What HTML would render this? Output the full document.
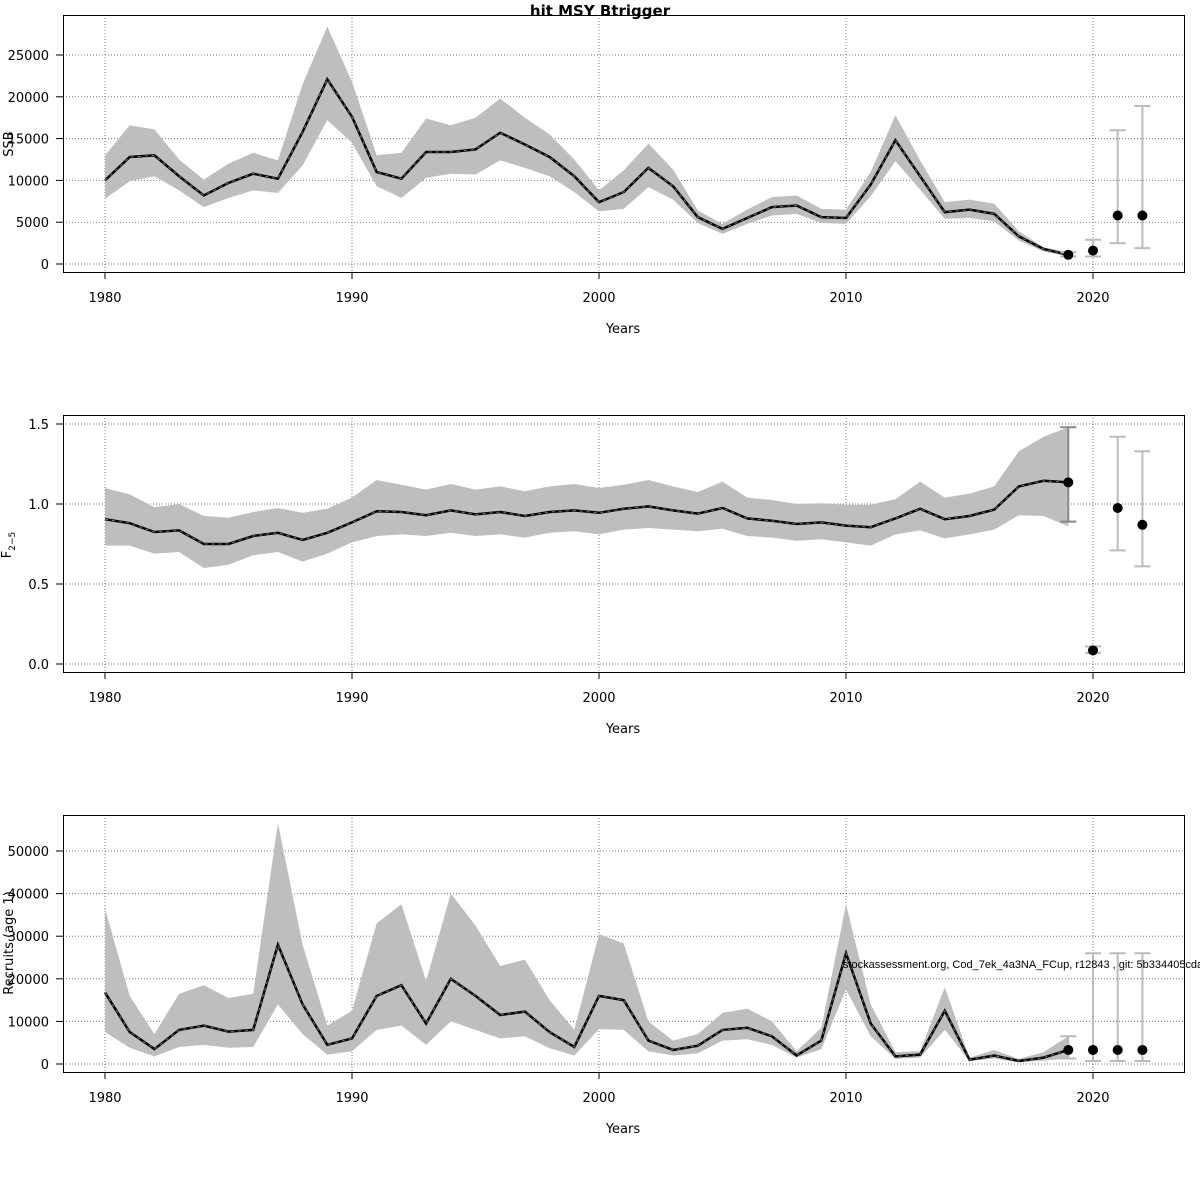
<!DOCTYPE html>
<html><head><meta charset="utf-8"><style>
html,body{margin:0;padding:0;background:#fff;}
svg{display:block;font-family:"DejaVu Sans","Liberation Sans",sans-serif;}
</style></head><body>
<svg id="s" width="1200" height="1200" xmlns="http://www.w3.org/2000/svg"></svg>
<script>
const S=document.getElementById('s');let h='';
const X=y=>105+(y-1980)*24.7;
const ssb=[[10,7.8,13],[12.8,9.9,16.6],[13,10.5,16.1],[10.5,8.8,12.5],[8.2,6.8,10.1],[9.7,7.9,12],[10.8,8.8,13.3],[10.2,8.5,12.4],[15.8,11.8,21.5],[22.1,17.2,28.4],[17.6,14.5,21.8],[11,9.3,13],[10.2,7.9,13.3],[13.4,10.3,17.4],[13.4,10.8,16.6],[13.7,10.7,17.5],[15.7,12.4,19.8],[14.3,11.5,17.5],[12.8,10.5,15.5],[10.5,8.6,12.5],[7.4,6.3,8.8],[8.6,6.6,11.2],[11.5,9.2,14.4],[9.3,7.7,11.3],[5.6,4.9,6.4],[4.2,3.6,4.8],[5.5,4.8,6.5],[6.8,5.8,8],[7,6,8.2],[5.6,4.9,6.6],[5.5,4.8,6.5],[9.5,8.1,11],[14.8,12.3,17.8],[10.5,8.9,12.4],[6.2,5.4,7.4],[6.5,5.5,7.7],[6,5.1,7.2],[3.3,2.8,3.9],[1.8,1.5,2],[1.1,0.9,1.4]];
const F=[[.905,.74,1.1],[.88,.74,1.06],[.825,.69,.98],[.835,.7,1],[.75,.6,.925],[.75,.62,.915],[.8,.68,.95],[.82,.7,.975],[.775,.64,.945],[.82,.69,.97],[.885,.76,1.04],[.955,.8,1.15],[.95,.81,1.12],[.93,.8,1.09],[.96,.82,1.125],[.935,.8,1.09],[.95,.81,1.11],[.925,.79,1.08],[.95,.82,1.11],[.96,.83,1.125],[.945,.81,1.1],[.97,.84,1.12],[.985,.85,1.15],[.96,.84,1.11],[.94,.83,1.075],[.975,.845,1.14],[.91,.8,1.04],[.895,.79,1.025],[.875,.77,1],[.885,.78,1.005],[.865,.76,.995],[.855,.74,.995],[.91,.81,1.03],[.97,.835,1.14],[.905,.785,1.04],[.925,.81,1.065],[.965,.84,1.11],[1.11,.93,1.33],[1.145,.925,1.42],[1.135,.86,1.48]];
const R=[[16.8,7.5,36.5],[7.5,3.8,16],[3.5,1.8,7],[8,4,16.5],[9,4.5,18.5],[7.6,3.8,15.5],[8,4,16.5],[28,14,56.5],[14,7,28],[4.5,2.2,9],[6,3,12.5],[16,8,33],[18.5,9,37.5],[9.5,4.5,19.5],[20,10,40],[16,8,32.5],[11.5,6,23],[12.3,6.5,24.5],[7.5,3.7,15],[4,2,8],[16,8.2,30.5],[15,8,28.3],[5.5,3,10],[3.3,2,5.5],[4.3,2.5,7],[8,5.5,12],[8.5,5.8,13],[6.5,4.5,10],[2,1.5,3],[5.5,3.5,8.5],[26,17.5,37.5],[9.5,6.5,14],[1.8,1.2,2.8],[2.2,1.5,3],[12.5,8,18],[1,.7,1.5],[2,1.3,3.3],[.7,.4,1.2],[1.5,.8,2.8],[3.3,1.3,6.5]];
function panel(top,data,Y,ticks,fmt,ylab,ptsE,lastE,lastCol){
 const bot=top+257;
 // grid
 for(let y=1980;y<=2020;y+=10)h+=`<line x1="${X(y)}" y1="${top}" x2="${X(y)}" y2="${bot}" stroke="#777" stroke-dasharray="1,2"/>`;
 ticks.forEach(t=>{h+=`<line x1="63" y1="${Y(t)}" x2="1184" y2="${Y(t)}" stroke="#777" stroke-dasharray="1,2"/>`;
  h+=`<line x1="56" y1="${Y(t)}" x2="63" y2="${Y(t)}" stroke="#000"/><text x="49" y="${Y(t)+5}" font-size="13" text-anchor="end">${fmt(t)}</text>`;});
 // band
 let p=data.map((d,i)=>X(1980+i)+','+Y(d[2])).join(' ')+' '+data.map((d,i)=>X(1980+i)+','+Y(d[1])).reverse().join(' ');
 h+=`<polygon points="${p}" fill="#bebebe"/>`;
 let l=data.map((d,i)=>X(1980+i)+','+Y(d[0])).join(' ');
 h+=`<polyline points="${l}" fill="none" stroke="#000" stroke-width="2.5"/><polyline points="${l}" fill="none" stroke="#777" stroke-width="1" stroke-dasharray="3,4"/>`;
 const eb=(yr,lo,hi,c)=>{const x=X(yr);h+=`<g stroke="${c}" stroke-width="2"><line x1="${x}" y1="${Y(lo)}" x2="${x}" y2="${Y(hi)}"/><line x1="${x-8}" y1="${Y(lo)}" x2="${x+8}" y2="${Y(lo)}"/><line x1="${x-8}" y1="${Y(hi)}" x2="${x+8}" y2="${Y(hi)}"/></g>`;};
 eb(2019,lastE[0],lastE[1],lastCol);
 ptsE.forEach(q=>eb(q[0],q[2],q[3],'#bbb'));
 h+=`<circle cx="${X(2019)}" cy="${Y(data[39][0])}" r="5" fill="#000"/>`;
 ptsE.forEach(q=>h+=`<circle cx="${X(q[0])}" cy="${Y(q[1])}" r="5" fill="#000"/>`);
 h+=`<rect x="63.5" y="${top+.5}" width="1121" height="257" fill="none" stroke="#000"/>`;
 for(let y=1980;y<=2020;y+=10)h+=`<line x1="${X(y)}" y1="${bot}" x2="${X(y)}" y2="${bot+7}" stroke="#000"/><text x="${X(y)}" y="${bot+30}" font-size="13" text-anchor="middle">${y}</text>`;
 h+=`<text x="623" y="${bot+61}" font-size="13" text-anchor="middle">Years</text>`;
 h+=ylab;
}
panel(15,ssb,v=>264-v*8.36,[0,5,10,15,20,25],t=>t*1000,
 `<text transform="translate(13,144) rotate(-90)" font-size="13" text-anchor="middle">SSB</text>`,
 [[2020,1.6,.9,2.9],[2021,5.8,2.5,16],[2022,5.8,1.9,18.9]],[.9,1.4],'#bbb');
panel(415,F,v=>664-v*160,[0,.5,1,1.5],t=>t.toFixed(1),
 `<text transform="translate(11,545) rotate(-90)" font-size="13" text-anchor="middle">F<tspan font-size="9" dy="4">2−5</tspan></text>`,
 [[2020,.085,.07,.11],[2021,.975,.71,1.42],[2022,.87,.61,1.33]],[.89,1.48],'#888');
panel(815,R,v=>1064-v*4.26,[0,10,20,30,40,50],t=>t*1000,
 `<text transform="translate(13,943) rotate(-90)" font-size="13" text-anchor="middle">Recruits (age 1)</text>`,
 [[2020,3.3,.7,26],[2021,3.3,.7,26],[2022,3.3,.7,26]],[1.3,6.5],'#bbb');
h+=`<text x="843" y="968" font-size="11" font-family="Liberation Sans,sans-serif">stockassessment.org, Cod_7ek_4a3NA_FCup, r12843 , git: 5b334405cda7</text>`;
h+=`<text x="600" y="16" font-size="15" font-weight="bold" text-anchor="middle">hit MSY Btrigger</text>`;
S.innerHTML=h;
</script>
</body></html>
